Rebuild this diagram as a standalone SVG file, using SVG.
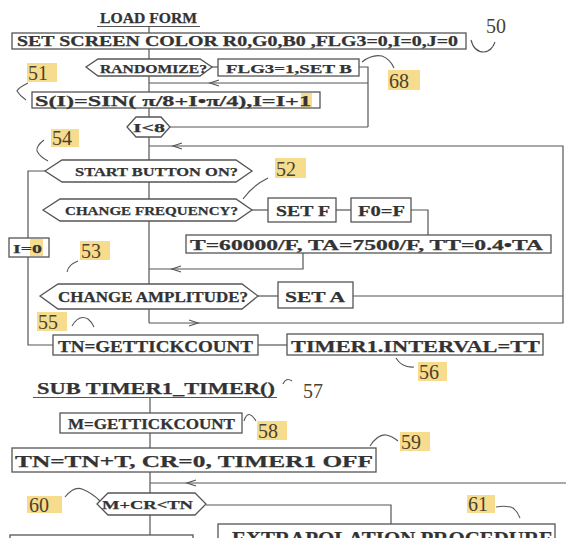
<svg xmlns="http://www.w3.org/2000/svg" width="566" height="538" viewBox="0 0 566 538">
<style>
.t{font-family:"Liberation Serif",serif;font-weight:bold;fill:#333;stroke:#333;stroke-width:0.25}
.b{fill:#fff;stroke:#555;stroke-width:1.3}
.c{fill:none;stroke:#555;stroke-width:1.2}
.sq{fill:none;stroke:#555;stroke-width:1.1}
.hl{fill:#f6dc8c}
.n{font-family:"Liberation Serif",serif;font-size:20px;fill:#4a4230}
</style>
<rect width="566" height="538" fill="#fff"/>
<g id="connectors">
<line class="c" x1="97" y1="26.5" x2="200" y2="26.5"/>
<line class="c" x1="149" y1="26.5" x2="149" y2="33"/>
<line class="c" x1="149" y1="49" x2="149" y2="59"/>
<line class="c" x1="149" y1="76" x2="149" y2="92"/>
<line class="c" x1="212" y1="67" x2="218" y2="67"/>
<polyline class="c" points="359,67 368,67 368,127"/>
<line class="c" x1="170" y1="127" x2="368" y2="127"/>
<line class="c" x1="368" y1="83" x2="149" y2="83"/>
<path class="c" d="M219,80 L210,83 L219,86"/>
<line class="c" x1="149" y1="108" x2="149" y2="117"/>
<line class="c" x1="149" y1="137" x2="149" y2="160"/>
<polyline class="c" points="149,323 563,323 563,146 149,146"/>
<path class="c" d="M182,143 L173,146 L182,149"/>
<line class="c" x1="149" y1="182" x2="149" y2="199"/>
<line class="c" x1="149" y1="221" x2="149" y2="284"/>
<line class="c" x1="149" y1="309" x2="149" y2="323"/>
<line class="c" x1="252" y1="210" x2="268" y2="210"/>
<line class="c" x1="336" y1="210" x2="351" y2="210"/>
<polyline class="c" points="411,210 428,210 428,235"/>
<polyline class="c" points="303,253 303,269 149,269"/>
<path class="c" d="M181,266 L172,269 L181,272"/>
<polyline class="c" points="45,171 28,171 28,345 53,345"/>
<line class="c" x1="258" y1="296" x2="278" y2="296"/>
<line class="c" x1="353" y1="296" x2="563" y2="296"/>
<line class="c" x1="258" y1="345" x2="287" y2="345"/>
<line class="c" x1="33" y1="397.5" x2="277" y2="397.5"/>
<line class="c" x1="150" y1="397.5" x2="150" y2="413"/>
<line class="c" x1="150" y1="433" x2="150" y2="448"/>
<line class="c" x1="150" y1="472" x2="150" y2="493"/>
<line class="c" x1="566" y1="483" x2="150" y2="483"/>
<polyline class="c" points="206,505 391,505 391,524"/>
<line class="c" x1="150" y1="515" x2="150" y2="535"/>
<path class="c" d="M189,320 L198,323 L189,326"/>
<path class="c" d="M196,480 L187,483 L196,486"/>
</g>
<g id="load-form"><text class="t" x="100" y="23" font-size="14.5" textLength="97" lengthAdjust="spacingAndGlyphs">LOAD FORM</text></g>
<g id="init">
<rect class="b" x="12" y="33" width="454" height="16"/>
<text class="t" x="17" y="45.5" font-size="14" textLength="441" lengthAdjust="spacingAndGlyphs">SET SCREEN COLOR R0,G0,B0 ,FLG3=0,I=0,J=0</text>
</g>
<g id="randomize">
<polygon class="b" points="86,67 98,59 200,59 212,67 200,76 98,76"/>
<text class="t" x="100" y="72.5" font-size="13.5" textLength="107" lengthAdjust="spacingAndGlyphs">RANDOMIZE?</text>
</g>
<g id="flg3">
<rect class="b" x="218" y="59" width="141" height="17"/>
<text class="t" x="226" y="72.5" font-size="13.5" textLength="126" lengthAdjust="spacingAndGlyphs">FLG3=1,SET B</text>
</g>
<g id="sin">
<rect class="b" x="32" y="92" width="288" height="16"/>
<rect class="hl" x="301" y="93" width="11" height="14"/>
<text class="t" x="35" y="106" font-size="15.5" textLength="276" lengthAdjust="spacingAndGlyphs">S(I)=SIN( π/8+I•π/4),I=I+1</text>
</g>
<g id="i-lt-8">
<polygon class="b" points="127,127 136,117 161,117 170,127 161,137 136,137"/>
<text class="t" x="133" y="132" font-size="13.5" textLength="32" lengthAdjust="spacingAndGlyphs">I&lt;8</text>
</g>
<g id="start">
<polygon class="b" points="45,171 62,160 236,160 252,171 236,182 62,182"/>
<text class="t" x="75" y="176" font-size="13.5" textLength="163" lengthAdjust="spacingAndGlyphs">START BUTTON ON?</text>
</g>
<g id="freq">
<polygon class="b" points="43,210 60,199 236,199 252,210 236,221 60,221"/>
<text class="t" x="65" y="215" font-size="13.5" textLength="173" lengthAdjust="spacingAndGlyphs">CHANGE FREQUENCY?</text>
</g>
<g id="set-f">
<rect class="b" x="268" y="198" width="68" height="24"/>
<text class="t" x="276" y="216" font-size="15" textLength="54" lengthAdjust="spacingAndGlyphs">SET F</text>
</g>
<g id="f0">
<rect class="b" x="351" y="198" width="60" height="24"/>
<text class="t" x="358" y="216" font-size="15" textLength="47" lengthAdjust="spacingAndGlyphs">F0=F</text>
</g>
<g id="calc-t">
<rect class="b" x="186" y="235" width="365" height="18"/>
<text class="t" x="190" y="250" font-size="14.5" textLength="353" lengthAdjust="spacingAndGlyphs">T=60000/F, TA=7500/F, TT=0.4•TA</text>
</g>
<g id="i0">
<rect class="b" x="9" y="238" width="40" height="19"/>
<rect class="hl" x="30" y="239" width="13" height="17"/>
<text class="t" x="13" y="253" font-size="13.5" textLength="29" lengthAdjust="spacingAndGlyphs">I=0</text>
</g>
<g id="ampl">
<polygon class="b" points="40,296 58,284 242,284 258,296 242,309 58,309"/>
<text class="t" x="58" y="301.5" font-size="14" textLength="190" lengthAdjust="spacingAndGlyphs">CHANGE AMPLITUDE?</text>
</g>
<g id="set-a">
<rect class="b" x="278" y="282" width="75" height="26"/>
<text class="t" x="285" y="302" font-size="15.5" textLength="60" lengthAdjust="spacingAndGlyphs">SET A</text>
</g>
<g id="tn-get">
<rect class="b" x="53" y="335" width="205" height="20"/>
<text class="t" x="58" y="352" font-size="16.5" textLength="195" lengthAdjust="spacingAndGlyphs">TN=GETTICKCOUNT</text>
</g>
<g id="timer-int">
<rect class="b" x="287" y="334" width="256" height="21"/>
<text class="t" x="291" y="351.5" font-size="16.5" textLength="249" lengthAdjust="spacingAndGlyphs">TIMER1.INTERVAL=TT</text>
</g>
<g id="sub"><text class="t" x="37" y="393.5" font-size="16.5" textLength="238" lengthAdjust="spacingAndGlyphs">SUB TIMER1_TIMER()</text></g>
<g id="m-get">
<rect class="b" x="60" y="413" width="182" height="20"/>
<text class="t" x="68" y="428.5" font-size="14.5" textLength="167" lengthAdjust="spacingAndGlyphs">M=GETTICKCOUNT</text>
</g>
<g id="tn-tn">
<rect class="b" x="12" y="448" width="364" height="24"/>
<text class="t" x="15" y="466.5" font-size="17.5" textLength="358" lengthAdjust="spacingAndGlyphs">TN=TN+T, CR=0, TIMER1 OFF</text>
</g>
<g id="mcr">
<polygon class="b" points="97,504 108,493 195,493 206,504 195,515 108,515"/>
<text class="t" x="102" y="509" font-size="13.5" textLength="91" lengthAdjust="spacingAndGlyphs">M+CR&lt;TN</text>
</g>
<g id="extrap">
<rect class="b" x="218" y="524" width="337" height="30"/>
<text class="t" x="232" y="545" font-size="18.5" textLength="321" lengthAdjust="spacingAndGlyphs">EXTRAPOLATION PROCEDURE</text>
</g>
<g id="bottom-box"><rect class="b" x="10" y="535" width="183" height="20"/></g>
<g id="labels">
<text class="n" x="486" y="33" font-size="21">50</text>
<path class="sq" d="M471,40 Q474,52 484,52 Q492,51 495,42"/>
<rect class="hl" x="27" y="63" width="30" height="19"/>
<text class="n" x="28" y="80">51</text>
<path class="sq" d="M28,83 Q18,88 17,91 Q20,96 26,100"/>
<rect class="hl" x="388" y="70" width="32" height="20"/>
<text class="n" x="389" y="88">68</text>
<path class="sq" d="M362,62 Q372,54 382,56 Q390,59 394,68"/>
<rect class="hl" x="51" y="129" width="28" height="18"/>
<text class="n" x="52" y="145">54</text>
<path class="sq" d="M44,140 Q36,146 37,151 Q40,157 48,161"/>
<rect class="hl" x="275" y="158" width="31" height="20"/>
<text class="n" x="276" y="176">52</text>
<path class="sq" d="M268,178 Q252,186 243,199"/>
<rect class="hl" x="80" y="241" width="30" height="19"/>
<text class="n" x="81" y="258">53</text>
<path class="sq" d="M78,261 Q68,265 67,272"/>
<rect class="hl" x="37" y="312" width="30" height="19"/>
<text class="n" x="38" y="329">55</text>
<path class="sq" d="M72,326 Q79,314 88,319 Q92,322 94,327"/>
<rect class="hl" x="418" y="362" width="29" height="19"/>
<text class="n" x="419" y="379">56</text>
<path class="sq" d="M396,358 Q402,368 414,367"/>
<text class="n" x="303" y="398">57</text>
<path class="sq" d="M283,384 Q286,377 292,381"/>
<rect class="hl" x="257" y="421" width="30" height="19"/>
<text class="n" x="258" y="438">58</text>
<path class="sq" d="M244,421 Q248,408 256,421"/>
<rect class="hl" x="400" y="432" width="30" height="19"/>
<text class="n" x="401" y="449">59</text>
<path class="sq" d="M370,446 Q378,434 386,435 Q392,436 398,441"/>
<rect class="hl" x="27" y="496" width="35" height="17"/>
<text class="n" x="29" y="512">60</text>
<path class="sq" d="M65,497 Q74,486 82,489 Q92,493 100,501"/>
<rect class="hl" x="467" y="495" width="28" height="18"/>
<text class="n" x="468" y="511">61</text>
<path class="sq" d="M496,507 Q506,505 513,508 Q518,512 520,518"/>
</g>
</svg>
